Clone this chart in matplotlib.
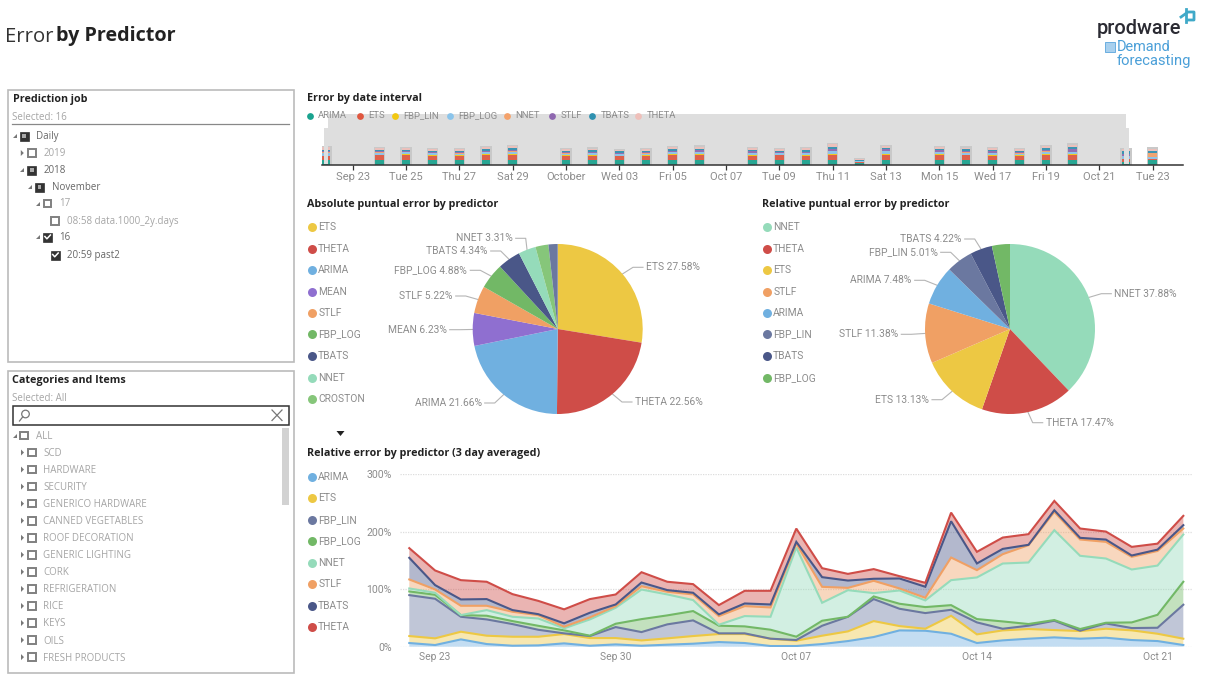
import numpy as np
import pandas as pd
import matplotlib
matplotlib.use("Agg")
import matplotlib.pyplot as plt
from matplotlib.patches import Rectangle

W, H = 1209, 680

# timeline (top chart), one stacked column per day that has a forecast
bar_dates = ["2018-09-22", "2018-09-24", "2018-09-25", "2018-09-26", "2018-09-27", "2018-09-28", "2018-09-29",
             "2018-10-01", "2018-10-02", "2018-10-03", "2018-10-04", "2018-10-05", "2018-10-06",
             "2018-10-08", "2018-10-09", "2018-10-10", "2018-10-11", "2018-10-12", "2018-10-13",
             "2018-10-15", "2018-10-16", "2018-10-17", "2018-10-18", "2018-10-19", "2018-10-20",
             "2018-10-22", "2018-10-23"]
bar_arima = [14, 15, 15, 15, 14, 15, 15, 14, 15, 14, 14, 15, 14, 14, 14, 14, 15, 4, 14, 14, 13, 14, 14, 15, 15, 8, 15]
bar_ets = [12, 13, 14, 12, 12, 14, 15, 12, 12, 11, 12, 14, 15, 13, 14, 12, 15, 4, 15, 15, 15, 13, 12, 15, 15, 8, 1]
bar_fbp_lin = [1, 2, 2, 2, 2, 2, 2, 2, 2, 2, 2, 2, 2, 2, 1, 2, 3, 1, 3, 2, 2, 2, 2, 2, 2, 1, 1]
bar_fbp_log = [9, 6, 6, 5, 5, 6, 7, 5, 6, 5, 5, 6, 7, 6, 5, 6, 8, 2, 8, 6, 6, 6, 5, 7, 6, 9, 5]
bar_nnet = [1, 1, 1, 1, 1, 1, 1, 1, 1, 1, 1, 1, 1, 1, 1, 1, 1, 0, 1, 1, 1, 1, 1, 1, 1, 1, 12]
bar_stlf = [3, 3, 3, 3, 3, 4, 4, 3, 3, 3, 3, 4, 4, 4, 4, 4, 5, 1, 5, 5, 4, 4, 4, 5, 7, 5, 1]
bar_tbats = [4, 3, 3, 4, 4, 5, 5, 4, 4, 4, 4, 5, 5, 4, 3, 5, 7, 2, 5, 5, 5, 4, 4, 5, 7, 8, 5]
bar_theta = [8, 6, 5, 5, 5, 6, 7, 5, 5, 4, 5, 6, 6, 5, 5, 5, 8, 3, 5, 5, 5, 5, 5, 6, 7, 6, 8]
bar_names = ["ARIMA", "ETS", "FBP_LIN", "FBP_LOG", "NNET", "STLF", "TBATS", "THETA"]
bar_colors = ["#1AA38F", "#E0573F", "#F2C811", "#8AC4EB", "#F4A26B", "#8F68B0", "#2F91B0", "#EFC0BA"]
timeline_ticks = ["2018-09-23", "2018-09-25", "2018-09-27", "2018-09-29", "2018-10-01", "2018-10-03", "2018-10-05",
                  "2018-10-07", "2018-10-09", "2018-10-11", "2018-10-13", "2018-10-15", "2018-10-17", "2018-10-19",
                  "2018-10-21", "2018-10-23"]
timeline_labels = ["Sep 23", "Tue 25", "Thu 27", "Sat 29", "October", "Wed 03", "Fri 05", "Oct 07", "Tue 09",
                   "Thu 11", "Sat 13", "Mon 15", "Wed 17", "Fri 19", "Oct 21", "Tue 23"]

# pies
abs_names = ["ETS", "THETA", "ARIMA", "MEAN", "STLF", "FBP_LOG", "TBATS", "NNET", "CROSTON", "FBP_LIN"]
abs_values = [27.58, 22.56, 21.66, 6.23, 5.22, 4.88, 4.34, 3.31, 2.47, 1.75]
rel_names = ["NNET", "THETA", "ETS", "STLF", "ARIMA", "FBP_LIN", "TBATS", "FBP_LOG"]
rel_values = [37.88, 17.47, 13.13, 11.38, 7.48, 5.01, 4.22, 3.43]

# relative error, 3 day averaged, percent per predictor
days = pd.date_range("2018-09-22", "2018-10-22")
arima = [6.4, 2.9, 12.7, 4.6, 1.7, 2.3, 5.8, 1.7, 4.0, 1.7, 3.5, 5.2, 8.1, 6.4, 1.2, 1.2,
         4.6, 9.8, 16.8, 28.3, 27.7, 22.5, 6.4, 11.0, 13.9, 16.2, 13.9, 15.6, 11.6, 9.8, 2.9]
ets = [12.1, 11.6, 13.3, 14.5, 15.6, 15.0, 16.2, 13.3, 11.0, 9.2, 11.0, 13.3, 13.9, 15.6, 12.7, 9.2,
       14.5, 16.8, 27.7, 7.5, 3.5, 31.2, 15.0, 17.3, 16.8, 12.7, 13.3, 15.6, 16.8, 12.7, 11.0]
fbp_lin = [71.1, 68.8, 26.0, 28.3, 22.0, 12.1, 1.2, 3.5, 19.1, 14.5, 24.3, 27.2, 1.2, 1.2, 0.0, 1.2,
           17.3, 25.4, 38.2, 30.1, 27.2, 10.4, 20.8, 2.9, 5.8, 16.2, 0.6, 9.2, 4.0, 10.4, 59.0]
fbp_log = [6.4, 6.9, 2.9, 6.4, 5.2, 6.9, 5.2, 0.6, 5.8, 22.5, 15.6, 16.2, 13.3, 12.1, 15.6, 5.8,
           8.7, 0.0, 4.6, 8.7, 10.4, 8.1, 5.8, 12.7, 2.9, 1.2, 2.9, 1.2, 9.8, 22.5, 39.9]
nnet = [5.2, 3.5, 0.0, 9.8, 7.5, 12.7, 3.5, 28.3, 27.7, 51.4, 36.4, 19.1, 1.7, 17.9, 22.5, 154.9,
        31.2, 46.2, 5.8, 23.1, 11.6, 43.4, 72.3, 100.6, 106.9, 156.1, 127.2, 111.6, 91.9, 85.5, 82.1]
stlf = [15.6, 5.8, 16.2, 7.5, 8.7, 5.8, 2.9, 3.5, 2.9, 5.8, 4.6, 9.8, 15.0, 17.3, 16.2, 6.9,
        27.7, 4.0, 21.4, 3.5, 4.6, 39.3, 12.7, 16.2, 30.1, 31.8, 28.3, 28.9, 22.0, 25.4, 10.4]
tbats = [37.6, 7.5, 11.0, 11.6, 2.9, 1.7, 5.8, 8.1, 2.9, 6.4, 2.9, 2.9, 2.9, 4.6, 5.2, 2.9,
         16.8, 12.7, 3.5, 17.3, 19.1, 63.0, 11.6, 9.2, 0.6, 2.9, 2.9, 4.0, 2.3, 2.3, 5.8]
theta = [16.8, 25.4, 33.5, 30.1, 27.7, 23.1, 24.3, 23.7, 17.3, 17.9, 14.5, 15.0, 16.2, 22.0, 23.7, 23.1,
         15.6, 11.6, 16.8, 4.0, 6.9, 15.0, 20.2, 19.7, 18.5, 16.2, 16.2, 13.9, 15.0, 10.4, 16.2]
area_names = ["ARIMA", "ETS", "FBP_LIN", "FBP_LOG", "NNET", "STLF", "TBATS", "THETA"]
area_ticks = ["2018-09-23", "2018-09-30", "2018-10-07", "2018-10-14", "2018-10-21"]
area_tick_labels = ["Sep 23", "Sep 30", "Oct 07", "Oct 14", "Oct 21"]

# slicers
job_rows = [("Daily", 0, "partial", True), ("2019", 1, "empty", False), ("2018", 1, "partial", True),
            ("November", 2, "partial", True), ("17", 3, "empty", False),
            ("08:58 data.1000_2y.days", 4, "empty", False), ("16", 3, "checked", True),
            ("20:59 past2", 4, "checked", True)]
category_items = ["SCD", "HARDWARE", "SECURITY", "GENERICO HARDWARE", "CANNED VEGETABLES", "ROOF DECORATION",
                  "GENERIC LIGHTING", "CORK", "REFRIGERATION", "RICE", "KEYS", "OILS", "FRESH PRODUCTS"]

COLORS = {"ETS": "#EDC843", "THETA": "#CF4D48", "ARIMA": "#70B0E0", "MEAN": "#8F6FD0", "STLF": "#F0A064",
          "FBP_LOG": "#72B866", "TBATS": "#4A5788", "NNET": "#95DBBA", "CROSTON": "#86C67A", "FBP_LIN": "#6B78A0"}
GREY = "#8C8C8C"
UI = "Open Sans"
LABEL = "Roboto"


def axes_px(fig, x0, y0, x1, y1):
    return fig.add_axes([x0 / W, 1 - y1 / H, (x1 - x0) / W, (y1 - y0) / H])


def put(ax, x, y, s, px, color=GREY, weight="normal", ha="left", family=LABEL):
    # Open Sans sits a little high when centred
    if family == UI:
        y += 1
    ax.text(x, y, s, fontsize=px * 0.72, color=color, fontweight=weight, ha=ha, va="center", family=family)


def checkbox(ax, x, y, state):
    if state == "empty":
        ax.add_patch(Rectangle((x - 3.8, y - 3.8), 7.6, 7.6, fc="white", ec="#808080", lw=1.4))
        return
    ax.add_patch(Rectangle((x - 4.5, y - 4.5), 9, 9, fc="#333333", ec="#333333", lw=0.5))
    if state == "partial":
        ax.add_patch(Rectangle((x - 1.8, y - 1.8), 3.6, 3.6, fc="#AAAAAA", ec="none"))
    else:
        ax.plot([x - 2.5, x - 0.5, x + 3], [y - 0.5, y + 1.8, y - 2], color="white", lw=1.1)


def arrow(ax, x, y, is_open):
    if is_open:
        pts = [(x - 2, y + 2), (x + 2, y + 2), (x + 2, y - 2)]
    else:
        pts = [(x - 1.5, y - 3), (x + 1.5, y), (x - 1.5, y + 3)]
    ax.fill(*zip(*pts), color="#777777", lw=0)


def legend_column(ax, x, ys, names):
    for y, name in zip(ys, names):
        ax.scatter([x], [y], s=42, color=COLORS[name], lw=0)
        put(ax, x + 6.5, y, name, 10.2)


def draw_pie(fig, over, cx, cy, r, names, values, labels):
    ax = axes_px(fig, cx - r, cy - r, cx + r, cy + r)
    wedges, _ = ax.pie(values, colors=[COLORS[n] for n in names], startangle=90, counterclock=False, radius=1)
    ax.set_xlim(-1, 1)
    ax.set_ylim(-1, 1)
    for wedge, name, value, label in zip(wedges, names, values, labels):
        if label is None:
            continue
        tx, ty, ha = label
        mid = np.radians((wedge.theta1 + wedge.theta2) / 2)
        ex, ey = cx + r * np.cos(mid), cy - r * np.sin(mid)
        sign = 1 if ha == "left" else -1
        end = tx - sign * 3
        over.plot([ex, end - sign * 10, end], [ey, ty, ty], color="#B5B5B5", lw=0.8)
        put(over, tx, ty, f"{name} {value:.2f}%", 10.2, ha=ha)


def main():
    fig = plt.figure(figsize=(W / 100, H / 100), dpi=100, facecolor="white")

    over = fig.add_axes([0, 0, 1, 1], zorder=0)
    over.set_xlim(0, W)
    over.set_ylim(H, 0)
    over.axis("off")

    # page title and logo
    over.text(5, 36.5, "Error", fontsize=14.6, color="#333333", va="center", family=UI)
    over.text(56, 36.5, "by Predictor", fontsize=14.2, color="#222222", fontweight="bold", va="center", family=UI)
    put(over, 1097, 29, "prodware", 20, color="#2B2B33", weight="medium", family=LABEL)
    put(over, 1117, 47, "Demand", 14.5, color="#4A9FD8", family=LABEL)
    put(over, 1117, 60.5, "forecasting", 14.7, color="#4A9FD8", family=LABEL)
    over.add_patch(Rectangle((1105, 42), 10, 10, fc="#A8D0EE", ec="#6AAEE0", lw=0.7))
    over.plot([1181, 1188, 1194, 1194, 1188], [17, 12, 12, 20, 20], color="#3FA9C8", lw=2)
    over.plot([1186, 1186], [9, 22], color="#3FA9C8", lw=2)

    # prediction job slicer
    over.add_patch(Rectangle((7.5, 90), 286.5, 272, fc="white", ec="#BBBBBB", lw=1.2))
    put(over, 13, 98.5, "Prediction job", 10.8, color="#222222", weight="bold", family=UI)
    put(over, 12.5, 116.5, "Selected: 16", 9.8, color="#A5A5A5", family=UI)
    over.plot([12, 289], [124, 124], color="#888888", lw=0.9)
    job_y = [136, 153, 170, 187, 203.5, 221, 237, 255]
    for y, (name, level, state, active) in zip(job_y, job_rows):
        box_x = 24 + level * 7.8
        if level < 4:
            arrow(over, box_x - 9.5, y, name != "2019")
        checkbox(over, box_x, y, state)
        put(over, box_x + 12, y - 0.5, name, 9.8, color="#666666" if active else "#A5A5A5", family=UI)

    # categories slicer
    over.add_patch(Rectangle((7.5, 371), 286.5, 301.5, fc="white", ec="#BBBBBB", lw=1.2))
    put(over, 12.5, 379.5, "Categories and Items", 10.8, color="#222222", weight="bold", family=UI)
    put(over, 12.5, 397.5, "Selected: All", 9.8, color="#A5A5A5", family=UI)
    over.add_patch(Rectangle((13, 406), 276, 19, fc="white", ec="#333333", lw=1.1))
    over.add_patch(plt.Circle((25.5, 414), 3.8, fc="none", ec="#777777", lw=0.9))
    over.plot([22.8, 19.5], [416.8, 421], color="#777777", lw=0.9)
    over.plot([272, 282], [410, 420.5], color="#777777", lw=0.9)
    over.plot([272, 282], [420.5, 410], color="#777777", lw=0.9)
    over.add_patch(Rectangle((282, 428), 7, 77, fc="#D2D2D2", ec="none"))
    arrow(over, 15, 436, True)
    checkbox(over, 24, 435.5, "empty")
    put(over, 35.5, 435.5, "ALL", 9.8, color="#A5A5A5", family=UI)
    for i, name in enumerate(category_items):
        y = 453 + i * 17.05
        arrow(over, 22.5, y - 0.5, False)
        checkbox(over, 32, y - 0.5, "empty")
        put(over, 43, y - 0.5, name, 9.8, color="#A5A5A5", family=UI)

    # section titles
    put(over, 307, 97.5, "Error by date interval", 10.7, color="#222222", weight="bold", family=UI)
    put(over, 307, 203.5, "Absolute puntual error by predictor", 10.7, color="#222222", weight="bold", family=UI)
    put(over, 762, 203.5, "Relative puntual error by predictor", 10.7, color="#222222", weight="bold", family=UI)
    put(over, 307, 452.5, "Relative error by predictor (3 day averaged)", 10.7, color="#222222", weight="bold", family=UI)

    # timeline: brush behind the columns
    over.add_patch(Rectangle((328, 114), 798, 50.7, fc="#DEDEDE", ec="none"))
    ax_top = axes_px(fig, 322, 114, 1183, 164.7)
    ax_top.patch.set_alpha(0)
    x_bars = pd.to_datetime(bar_dates)
    stack = np.array([bar_arima, bar_ets, bar_fbp_lin, bar_fbp_log, bar_nnet, bar_stlf, bar_tbats, bar_theta], dtype=float)
    ax_top.bar(x_bars, stack.sum(axis=0) + 4, width=0.42, color="#C9C9C9", lw=0)
    bottom = np.zeros(len(bar_dates))
    for row, color in zip(stack, bar_colors):
        ax_top.bar(x_bars, row, width=0.32, bottom=bottom, color=color, alpha=0.92, lw=0)
        bottom += row
    ax_top.set_xlim(pd.Timestamp("2018-09-21 20:24"), pd.Timestamp("2018-10-24 03:15"))
    ax_top.set_ylim(0, 152)
    ax_top.set_yticks([])
    ax_top.set_xticks(pd.to_datetime(timeline_ticks))
    ax_top.set_xticklabels(timeline_labels, fontsize=8.0, color=GREY, family=LABEL)
    ax_top.tick_params(axis="x", length=3.5, width=0.9, color="#333333", pad=2)
    for side in ["top", "left", "right"]:
        ax_top.spines[side].set_visible(False)
    ax_top.spines["bottom"].set_color("#333333")
    ax_top.spines["bottom"].set_linewidth(1.1)

    leg_x = [310, 360, 395.3, 449.7, 507, 552.3, 592.3, 638.3]
    for x, name, color in zip(leg_x, bar_names, bar_colors):
        over.scatter([x], [116], s=24, color=color, lw=0, zorder=5)
        put(over, x + 8.3, 116, name, 9.5)

    # pies
    pie_y = [227.3, 248.7, 270, 291.7, 313, 334.3, 356, 377.7, 399]
    legend_column(over, 311.7, pie_y, abs_names[:9])
    over.fill([336.5, 344.5, 340.5], [431, 431, 436], color="#222222", lw=0)
    abs_labels = [(646, 267.3, "left"), (635, 402, "left"), (481.7, 403, "right"), (446.7, 329.7, "right"),
                  (452.7, 296, "right"), (467.3, 270.3, "right"), (487.7, 251, "right"), (512.7, 238.3, "right"),
                  None, None]
    draw_pie(fig, over, 557.7, 329, 85, abs_names, abs_values, abs_labels)

    legend_column(over, 766.7, pie_y[:8], rel_names)
    rel_labels = [(1114.3, 293.7, "left"), (1045.7, 422.7, "left"), (929, 399.7, "right"), (898.3, 334.3, "right"),
                  (911.7, 280.3, "right"), (937.7, 252.3, "right"), (961.7, 239, "right"), None]
    draw_pie(fig, over, 1010, 329, 85, rel_names, rel_values, rel_labels)

    # stacked area
    legend_column(over, 311.7, [476.7, 498.3, 520, 541.3, 562.7, 584, 605.7, 627], area_names)
    ax_area = axes_px(fig, 400, 474, 1193, 646.7)
    ax_area.patch.set_alpha(0)
    series = np.array([arima, ets, fbp_lin, fbp_log, nnet, stlf, tbats, theta])
    area_colors = [COLORS[n] for n in area_names]
    ax_area.stackplot(days, series, colors=area_colors, alpha=0.42, lw=0)
    tops = np.cumsum(series, axis=0)
    for top_line, color in zip(tops, area_colors):
        ax_area.plot(days, top_line, color=color, lw=1.5, solid_joinstyle="miter")
    ax_area.set_xlim(pd.Timestamp("2018-09-21 15:22"), pd.Timestamp("2018-10-22 09:00"))
    ax_area.set_ylim(0, 300)
    ax_area.set_yticks([0, 100, 200, 300])
    ax_area.set_yticklabels(["0%", "100%", "200%", "300%"], fontsize=7.6, color=GREY, family=LABEL)
    ax_area.set_xticks(pd.to_datetime(area_ticks))
    ax_area.set_xticklabels(area_tick_labels, fontsize=7.4, color=GREY, family=LABEL)
    ax_area.tick_params(axis="both", length=0)
    ax_area.tick_params(axis="x", pad=4)
    ax_area.tick_params(axis="y", pad=6)
    ax_area.yaxis.grid(True, color="#DDDDDD", lw=0.9, ls=(0, (1, 1)))
    ax_area.set_axisbelow(True)
    for side in ax_area.spines:
        ax_area.spines[side].set_visible(False)

    # brush handles sit over the end columns
    top = fig.add_axes([0, 0, 1, 1], zorder=5)
    top.set_xlim(0, W)
    top.set_ylim(H, 0)
    top.axis("off")
    top.add_patch(Rectangle((323.5, 128), 4.5, 36.2, fc="#DEDEDE", ec="none"))
    top.add_patch(Rectangle((1123.5, 128), 5.5, 36.2, fc="#DEDEDE", ec="none"))

    fig.savefig("out.png", dpi=100)


if __name__ == "__main__":
    main()
